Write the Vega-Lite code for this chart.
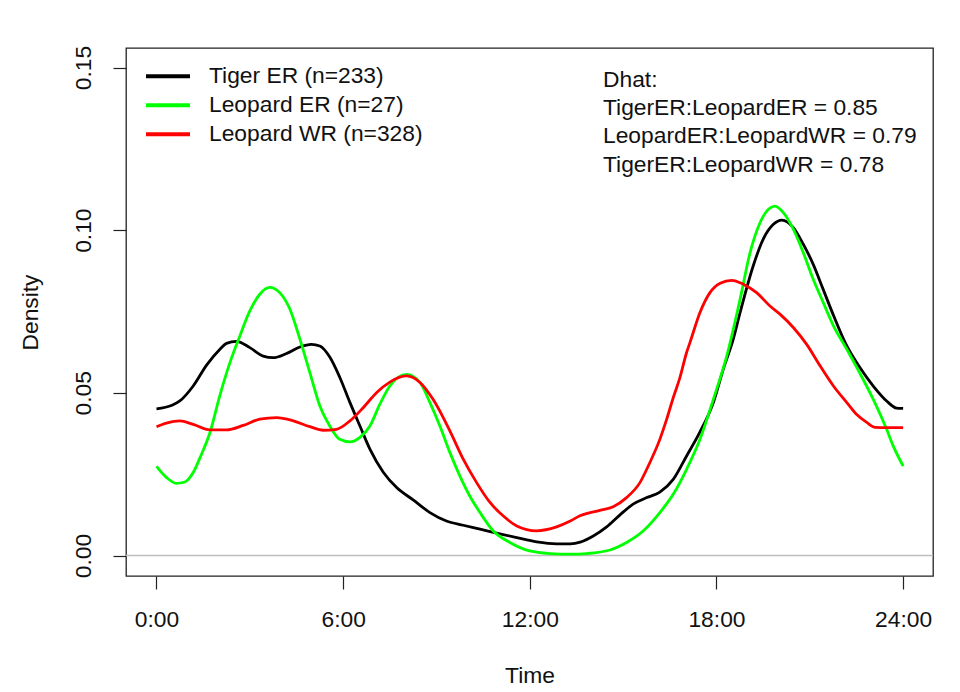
{
  "$schema": "https://vega.github.io/schema/vega-lite/v6.json",
  "width": 807,
  "height": 528,
  "autosize": {"type": "none"},
  "padding": {"left": 126, "top": 48, "right": 27, "bottom": 116},
  "background": "white",
  "config": {
    "view": {"stroke": "#222222", "strokeWidth": 1.3},
    "font": "Liberation Sans",
    "axis": {
      "domain": false, "grid": false, "tickColor": "#222222", "tickWidth": 1.2, "tickSize": 13,
      "labelFont": "Liberation Sans", "labelFontSize": 22.8, "labelColor": "#111111",
      "titleFont": "Liberation Sans", "titleFontSize": 22.8, "titleFontWeight": "normal", "titleColor": "#111111"
    },
    "legend": {
      "orient": "none", "legendX": 18, "legendY": 14, "direction": "vertical",
      "symbolType": "stroke", "symbolSize": 1936, "symbolStrokeWidth": 4, "clipHeight": 28.4,
      "rowPadding": 0, "padding": 0, "labelFont": "Liberation Sans", "labelFontSize": 22.8,
      "labelColor": "#111111", "labelOffset": 17, "labelLimit": 500
    }
  },
  "title": {
    "text": ["Dhat:", "TigerER:LeopardER = 0.85", "LeopardER:LeopardWR = 0.79", "TigerER:LeopardWR = 0.78"],
    "anchor": "start", "frame": "group", "orient": "top", "offset": -149, "dx": 477,
    "baseline": "alphabetic", "lineHeight": 28.3, "fontSize": 22.8, "fontWeight": "normal",
    "font": "Liberation Sans", "color": "#111111"
  },
  "layer": [
    {
      "data": {"values": [{}]},
      "mark": {"type": "rule", "color": "#BEBEBE", "strokeWidth": 1.3},
      "encoding": {
        "x": {"datum": -0.98, "type": "quantitative"},
        "x2": {"datum": 24.96},
        "y": {"datum": 0, "type": "quantitative"}
      }
    },
    {
      "data": {"values": [
        {"s":"Tiger ER (n=233)","h":0,"d":0.0451},{"s":"Tiger ER (n=233)","h":0.5,"d":0.0462},{"s":"Tiger ER (n=233)","h":0.75,"d":0.0475},{"s":"Tiger ER (n=233)","h":1.18,"d":0.0521},{"s":"Tiger ER (n=233)","h":1.61,"d":0.0585},{"s":"Tiger ER (n=233)","h":2.04,"d":0.0634},{"s":"Tiger ER (n=233)","h":2.25,"d":0.0652},{"s":"Tiger ER (n=233)","h":2.57,"d":0.0658},{"s":"Tiger ER (n=233)","h":3.0,"d":0.0639},{"s":"Tiger ER (n=233)","h":3.43,"d":0.0613},{"s":"Tiger ER (n=233)","h":3.75,"d":0.0608},{"s":"Tiger ER (n=233)","h":4.18,"d":0.0621},{"s":"Tiger ER (n=233)","h":4.61,"d":0.0641},{"s":"Tiger ER (n=233)","h":4.98,"d":0.0649},{"s":"Tiger ER (n=233)","h":5.25,"d":0.0644},{"s":"Tiger ER (n=233)","h":5.57,"d":0.061},{"s":"Tiger ER (n=233)","h":5.89,"d":0.0548},{"s":"Tiger ER (n=233)","h":6.22,"d":0.047},{"s":"Tiger ER (n=233)","h":6.54,"d":0.0398},{"s":"Tiger ER (n=233)","h":6.86,"d":0.0327},{"s":"Tiger ER (n=233)","h":7.29,"d":0.0256},{"s":"Tiger ER (n=233)","h":7.72,"d":0.0209},{"s":"Tiger ER (n=233)","h":8.25,"d":0.0171},{"s":"Tiger ER (n=233)","h":8.79,"d":0.0132},{"s":"Tiger ER (n=233)","h":9.32,"d":0.0106},{"s":"Tiger ER (n=233)","h":9.86,"d":0.0093},{"s":"Tiger ER (n=233)","h":10.4,"d":0.0081},{"s":"Tiger ER (n=233)","h":10.93,"d":0.0069},{"s":"Tiger ER (n=233)","h":11.58,"d":0.0055},{"s":"Tiger ER (n=233)","h":12.22,"d":0.0042},{"s":"Tiger ER (n=233)","h":12.86,"d":0.0036},{"s":"Tiger ER (n=233)","h":13.3,"d":0.0036},{"s":"Tiger ER (n=233)","h":13.62,"d":0.0041},{"s":"Tiger ER (n=233)","h":14.04,"d":0.006},{"s":"Tiger ER (n=233)","h":14.47,"d":0.0088},{"s":"Tiger ER (n=233)","h":14.9,"d":0.0125},{"s":"Tiger ER (n=233)","h":15.32,"d":0.0158},{"s":"Tiger ER (n=233)","h":15.76,"d":0.0178},{"s":"Tiger ER (n=233)","h":16.18,"d":0.0195},{"s":"Tiger ER (n=233)","h":16.61,"d":0.0234},{"s":"Tiger ER (n=233)","h":17.04,"d":0.0306},{"s":"Tiger ER (n=233)","h":17.47,"d":0.038},{"s":"Tiger ER (n=233)","h":17.9,"d":0.047},{"s":"Tiger ER (n=233)","h":18.22,"d":0.0573},{"s":"Tiger ER (n=233)","h":18.54,"d":0.0665},{"s":"Tiger ER (n=233)","h":18.76,"d":0.0747},{"s":"Tiger ER (n=233)","h":19.18,"d":0.089},{"s":"Tiger ER (n=233)","h":19.5,"d":0.0972},{"s":"Tiger ER (n=233)","h":19.83,"d":0.1018},{"s":"Tiger ER (n=233)","h":20.1,"d":0.1031},{"s":"Tiger ER (n=233)","h":20.47,"d":0.1008},{"s":"Tiger ER (n=233)","h":20.79,"d":0.0957},{"s":"Tiger ER (n=233)","h":21.11,"d":0.0895},{"s":"Tiger ER (n=233)","h":21.43,"d":0.0818},{"s":"Tiger ER (n=233)","h":21.77,"d":0.0736},{"s":"Tiger ER (n=233)","h":22.19,"d":0.0644},{"s":"Tiger ER (n=233)","h":22.61,"d":0.0578},{"s":"Tiger ER (n=233)","h":23.04,"d":0.0521},{"s":"Tiger ER (n=233)","h":23.47,"d":0.0475},{"s":"Tiger ER (n=233)","h":23.79,"d":0.0453},{"s":"Tiger ER (n=233)","h":24,"d":0.0452},
        {"s":"Leopard ER (n=27)","h":0,"d":0.0274},{"s":"Leopard ER (n=27)","h":0.32,"d":0.024},{"s":"Leopard ER (n=27)","h":0.64,"d":0.0222},{"s":"Leopard ER (n=27)","h":0.91,"d":0.0226},{"s":"Leopard ER (n=27)","h":1.18,"d":0.0255},{"s":"Leopard ER (n=27)","h":1.4,"d":0.0301},{"s":"Leopard ER (n=27)","h":1.72,"d":0.0378},{"s":"Leopard ER (n=27)","h":2.04,"d":0.0493},{"s":"Leopard ER (n=27)","h":2.36,"d":0.0593},{"s":"Leopard ER (n=27)","h":2.68,"d":0.0675},{"s":"Leopard ER (n=27)","h":3.0,"d":0.0752},{"s":"Leopard ER (n=27)","h":3.32,"d":0.0803},{"s":"Leopard ER (n=27)","h":3.64,"d":0.0824},{"s":"Leopard ER (n=27)","h":3.96,"d":0.0808},{"s":"Leopard ER (n=27)","h":4.29,"d":0.0757},{"s":"Leopard ER (n=27)","h":4.61,"d":0.0665},{"s":"Leopard ER (n=27)","h":4.93,"d":0.0562},{"s":"Leopard ER (n=27)","h":5.25,"d":0.046},{"s":"Leopard ER (n=27)","h":5.57,"d":0.0398},{"s":"Leopard ER (n=27)","h":5.89,"d":0.0357},{"s":"Leopard ER (n=27)","h":6.22,"d":0.0349},{"s":"Leopard ER (n=27)","h":6.54,"d":0.0363},{"s":"Leopard ER (n=27)","h":6.86,"d":0.0398},{"s":"Leopard ER (n=27)","h":7.18,"d":0.0465},{"s":"Leopard ER (n=27)","h":7.5,"d":0.0521},{"s":"Leopard ER (n=27)","h":8.04,"d":0.0557},{"s":"Leopard ER (n=27)","h":8.47,"d":0.0532},{"s":"Leopard ER (n=27)","h":8.79,"d":0.047},{"s":"Leopard ER (n=27)","h":9.11,"d":0.0398},{"s":"Leopard ER (n=27)","h":9.43,"d":0.0317},{"s":"Leopard ER (n=27)","h":9.75,"d":0.0245},{"s":"Leopard ER (n=27)","h":10.07,"d":0.0183},{"s":"Leopard ER (n=27)","h":10.4,"d":0.0132},{"s":"Leopard ER (n=27)","h":10.82,"d":0.0076},{"s":"Leopard ER (n=27)","h":11.36,"d":0.004},{"s":"Leopard ER (n=27)","h":12.0,"d":0.0014},{"s":"Leopard ER (n=27)","h":12.65,"d":0.0006},{"s":"Leopard ER (n=27)","h":13.3,"d":0.0004},{"s":"Leopard ER (n=27)","h":13.83,"d":0.0006},{"s":"Leopard ER (n=27)","h":14.58,"d":0.0017},{"s":"Leopard ER (n=27)","h":15.11,"d":0.004},{"s":"Leopard ER (n=27)","h":15.65,"d":0.0076},{"s":"Leopard ER (n=27)","h":16.18,"d":0.0132},{"s":"Leopard ER (n=27)","h":16.61,"d":0.0188},{"s":"Leopard ER (n=27)","h":17.04,"d":0.0265},{"s":"Leopard ER (n=27)","h":17.47,"d":0.0357},{"s":"Leopard ER (n=27)","h":17.9,"d":0.048},{"s":"Leopard ER (n=27)","h":18.33,"d":0.0613},{"s":"Leopard ER (n=27)","h":18.76,"d":0.0788},{"s":"Leopard ER (n=27)","h":19.08,"d":0.0931},{"s":"Leopard ER (n=27)","h":19.4,"d":0.1023},{"s":"Leopard ER (n=27)","h":19.67,"d":0.1064},{"s":"Leopard ER (n=27)","h":19.88,"d":0.1074},{"s":"Leopard ER (n=27)","h":20.15,"d":0.1054},{"s":"Leopard ER (n=27)","h":20.47,"d":0.1003},{"s":"Leopard ER (n=27)","h":20.79,"d":0.0931},{"s":"Leopard ER (n=27)","h":21.11,"d":0.0849},{"s":"Leopard ER (n=27)","h":21.43,"d":0.0778},{"s":"Leopard ER (n=27)","h":21.76,"d":0.0706},{"s":"Leopard ER (n=27)","h":22.19,"d":0.0634},{"s":"Leopard ER (n=27)","h":22.6,"d":0.0562},{"s":"Leopard ER (n=27)","h":23.04,"d":0.048},{"s":"Leopard ER (n=27)","h":23.47,"d":0.0388},{"s":"Leopard ER (n=27)","h":23.68,"d":0.0337},{"s":"Leopard ER (n=27)","h":24,"d":0.0275},
        {"s":"Leopard WR (n=328)","h":0,"d":0.0396},{"s":"Leopard WR (n=328)","h":0.32,"d":0.0407},{"s":"Leopard WR (n=328)","h":0.75,"d":0.0414},{"s":"Leopard WR (n=328)","h":1.18,"d":0.0403},{"s":"Leopard WR (n=328)","h":1.72,"d":0.0386},{"s":"Leopard WR (n=328)","h":2.25,"d":0.0386},{"s":"Leopard WR (n=328)","h":2.79,"d":0.04},{"s":"Leopard WR (n=328)","h":3.32,"d":0.0419},{"s":"Leopard WR (n=328)","h":3.86,"d":0.0424},{"s":"Leopard WR (n=328)","h":4.4,"d":0.0414},{"s":"Leopard WR (n=328)","h":4.93,"d":0.0396},{"s":"Leopard WR (n=328)","h":5.36,"d":0.0385},{"s":"Leopard WR (n=328)","h":5.79,"d":0.0388},{"s":"Leopard WR (n=328)","h":6.22,"d":0.0414},{"s":"Leopard WR (n=328)","h":6.65,"d":0.0455},{"s":"Leopard WR (n=328)","h":7.08,"d":0.0501},{"s":"Leopard WR (n=328)","h":7.5,"d":0.0533},{"s":"Leopard WR (n=328)","h":8.04,"d":0.0552},{"s":"Leopard WR (n=328)","h":8.47,"d":0.0532},{"s":"Leopard WR (n=328)","h":8.89,"d":0.048},{"s":"Leopard WR (n=328)","h":9.43,"d":0.0383},{"s":"Leopard WR (n=328)","h":9.86,"d":0.0296},{"s":"Leopard WR (n=328)","h":10.29,"d":0.0224},{"s":"Leopard WR (n=328)","h":10.72,"d":0.0163},{"s":"Leopard WR (n=328)","h":11.14,"d":0.0122},{"s":"Leopard WR (n=328)","h":11.58,"d":0.0091},{"s":"Leopard WR (n=328)","h":12.22,"d":0.0076},{"s":"Leopard WR (n=328)","h":12.86,"d":0.0088},{"s":"Leopard WR (n=328)","h":13.3,"d":0.0106},{"s":"Leopard WR (n=328)","h":13.61,"d":0.0122},{"s":"Leopard WR (n=328)","h":14.25,"d":0.0139},{"s":"Leopard WR (n=328)","h":14.68,"d":0.015},{"s":"Leopard WR (n=328)","h":15.11,"d":0.0178},{"s":"Leopard WR (n=328)","h":15.54,"d":0.0224},{"s":"Leopard WR (n=328)","h":15.86,"d":0.0286},{"s":"Leopard WR (n=328)","h":16.18,"d":0.0357},{"s":"Leopard WR (n=328)","h":16.4,"d":0.0419},{"s":"Leopard WR (n=328)","h":16.61,"d":0.0485},{"s":"Leopard WR (n=328)","h":16.82,"d":0.0545},{"s":"Leopard WR (n=328)","h":17.04,"d":0.0624},{"s":"Leopard WR (n=328)","h":17.15,"d":0.0655},{"s":"Leopard WR (n=328)","h":17.47,"d":0.0747},{"s":"Leopard WR (n=328)","h":17.79,"d":0.0808},{"s":"Leopard WR (n=328)","h":18.12,"d":0.0837},{"s":"Leopard WR (n=328)","h":18.49,"d":0.0846},{"s":"Leopard WR (n=328)","h":18.86,"d":0.0834},{"s":"Leopard WR (n=328)","h":19.29,"d":0.0808},{"s":"Leopard WR (n=328)","h":19.72,"d":0.0767},{"s":"Leopard WR (n=328)","h":20.04,"d":0.0742},{"s":"Leopard WR (n=328)","h":20.47,"d":0.0701},{"s":"Leopard WR (n=328)","h":20.9,"d":0.0649},{"s":"Leopard WR (n=328)","h":21.33,"d":0.0583},{"s":"Leopard WR (n=328)","h":21.76,"d":0.0521},{"s":"Leopard WR (n=328)","h":22.19,"d":0.047},{"s":"Leopard WR (n=328)","h":22.5,"d":0.0434},{"s":"Leopard WR (n=328)","h":22.83,"d":0.0409},{"s":"Leopard WR (n=328)","h":23.1,"d":0.0394},{"s":"Leopard WR (n=328)","h":23.47,"d":0.0393},{"s":"Leopard WR (n=328)","h":24,"d":0.0393}
      ]},
      "mark": {"type": "line", "strokeWidth": 2.8, "interpolate": "monotone"},
      "encoding": {
        "x": {
          "field": "h", "type": "quantitative", "title": "Time",
          "scale": {"domain": [-0.98, 24.96], "nice": false, "zero": false},
          "axis": {"values": [0, 6, 12, 18, 24], "labelExpr": "datum.value + ':00'", "labelPadding": 19, "titlePadding": 34, "labelFlush": false}
        },
        "y": {
          "field": "d", "type": "quantitative", "title": "Density",
          "scale": {"domain": [-0.0063, 0.156], "nice": false, "zero": false},
          "axis": {"values": [0, 0.05, 0.1, 0.15], "format": ".2f", "labelAngle": -90, "labelAlign": "center", "labelBaseline": "alphabetic", "labelPadding": 23, "titlePadding": 30, "labelFlush": false}
        },
        "color": {
          "field": "s", "type": "nominal", "sort": null,
          "scale": {"domain": ["Tiger ER (n=233)", "Leopard ER (n=27)", "Leopard WR (n=328)"], "range": ["#000000", "#00FF00", "#FF0000"]},
          "legend": {"title": null}
        }
      }
    }
  ]
}
